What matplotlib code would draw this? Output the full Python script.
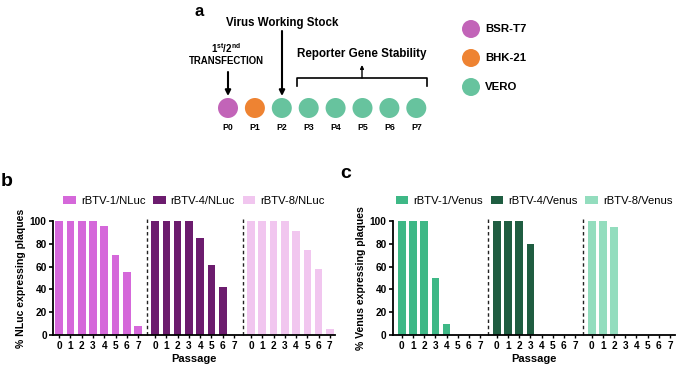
import numpy as np
import matplotlib.pyplot as plt
from matplotlib.patches import Circle

plt.rcParams["font.family"] = ["Liberation Sans", "DejaVu Sans"]
plt.rcParams["mathtext.fontset"] = "custom"
plt.rcParams["mathtext.rm"] = "Liberation Sans:bold"
plt.rcParams["mathtext.bf"] = "Liberation Sans:bold"

# ---- panel a: passage scheme ----
passage_labels = ["P0", "P1", "P2", "P3", "P4", "P5", "P6", "P7"]
passage_cells = ["BSR-T7", "BHK-21", "VERO", "VERO", "VERO", "VERO", "VERO", "VERO"]
cell_lines = ["BSR-T7", "BHK-21", "VERO"]
cell_colors = ["#C264B8", "#EE8332", "#67C39E"]

# ---- panels b / c: reporter stability ----
passages = [0, 1, 2, 3, 4, 5, 6, 7]
nluc_names = ["rBTV-1/NLuc", "rBTV-4/NLuc", "rBTV-8/NLuc"]
nluc_values = [
    [100, 100, 100, 100, 96, 70, 55, 8],
    [100, 100, 100, 100, 85, 61, 42, 0],
    [100, 100, 100, 100, 91, 75, 58, 5],
]
nluc_colors = ["#D568DA", "#6C1C6E", "#F1C6EF"]

venus_names = ["rBTV-1/Venus", "rBTV-4/Venus", "rBTV-8/Venus"]
venus_values = [
    [100, 100, 100, 50, 10, 0, 0, 0],
    [100, 100, 100, 80, 0, 0, 0, 0],
    [100, 100, 95, 0, 0, 0, 0, 0],
]
venus_colors = ["#3EB886", "#1F5D41", "#93DDBE"]

W, H = 680, 370
fig = plt.figure(figsize=(W / 100, H / 100), dpi=100)

# overlay in pixel coordinates for the scheme
ax_a = fig.add_axes([0, 0, 1, 1])
ax_a.set_xlim(0, W)
ax_a.set_ylim(H, 0)
ax_a.axis("off")

col_of = dict(zip(cell_lines, cell_colors))
x0, dx, yc, r = 228, 26.9, 108, 10
for i, (lab, cell) in enumerate(zip(passage_labels, passage_cells)):
    cx = x0 + i * dx
    ax_a.add_patch(Circle((cx, yc), r, color=col_of[cell], lw=0))
    ax_a.text(cx, yc + 19, lab, ha="center", va="center", fontsize=6.3, fontweight="bold")

# legend of cell lines
for j, (name, c) in enumerate(zip(cell_lines, cell_colors)):
    y = 29 + j * 29
    ax_a.add_patch(Circle((471, y), 9, color=c, lw=0))
    ax_a.text(485, y, name, ha="left", va="center", fontsize=8.2, fontweight="bold")

ax_a.text(199, 11, "a", ha="center", va="center", fontsize=12, fontweight="bold")
ax_a.text(226, 48, r"1$^{\mathbf{st}}$/2$^{\mathbf{nd}}$", ha="center", va="center",
          fontsize=7, fontweight="bold")
ax_a.text(226, 61, "TRANSFECTION", ha="center", va="center", fontsize=6.9, fontweight="bold")
ax_a.text(282, 23, "Virus Working Stock", ha="center", va="center", fontsize=8.3, fontweight="bold")
ax_a.text(362, 54, "Reporter Gene Stability", ha="center", va="center", fontsize=8.4, fontweight="bold")

arrow = dict(arrowstyle="-|>", lw=1.5, color="black", mutation_scale=8, shrinkA=0, shrinkB=0)
ax_a.annotate("", xy=(228, 96), xytext=(228, 72), arrowprops=arrow)
ax_a.annotate("", xy=(282, 96), xytext=(282, 31), arrowprops=arrow)
ax_a.plot([297, 297, 427, 427], [86, 78, 78, 86], color="black", lw=1.2)
ax_a.annotate("", xy=(362, 65), xytext=(362, 78),
              arrowprops=dict(arrowstyle="-|>", lw=1.0, color="black", mutation_scale=5,
                              shrinkA=0, shrinkB=0))

GROUP_STEP = 8.5


def bar_panel(left_px, names, values, colors, ylabel, xleft, letter, letter_xy):
    ax = fig.add_axes([left_px / W, 35 / H, 282 / W, 114 / H])
    ticks, ticklabels = [], []
    for g, (name, vals, c) in enumerate(zip(names, values, colors)):
        xs = g * GROUP_STEP + np.array(passages)
        ax.bar(xs, vals, width=0.68, color=c, label=name)
        ticks += list(xs)
        ticklabels += [str(p) for p in passages]
    for g in (1, 2):
        xm = g * GROUP_STEP - (GROUP_STEP - 7) / 2
        ax.vlines(xm, 0, 103, colors="#222222", linestyles=(0, (2.5, 2)), lw=1.0, clip_on=False)
    ax.set_xlim(xleft, 2 * GROUP_STEP + 7.45)
    ax.set_ylim(0, 100)
    ax.set_yticks([0, 20, 40, 60, 80, 100])
    ax.set_xticks(ticks)
    ax.set_xticklabels(ticklabels)
    for s in ("top", "right"):
        ax.spines[s].set_visible(False)
    for s in ("left", "bottom"):
        ax.spines[s].set_linewidth(1.3)
    ax.tick_params(axis="y", length=3, width=1.2, pad=1.5, labelsize=7.3)
    ax.tick_params(axis="x", length=2.5, width=1.0, pad=2, labelsize=7.3)
    for t in ax.get_xticklabels() + ax.get_yticklabels():
        t.set_fontweight("bold")
    ax.set_ylabel(ylabel, fontsize=7.6, fontweight="bold", labelpad=3)
    ax.set_xlabel("Passage", fontsize=8, fontweight="bold", labelpad=2)
    ax.legend(loc="lower center", bbox_to_anchor=(0.5, 1.08), ncol=3, frameon=False,
              fontsize=8.1, handlelength=1.1, handleheight=0.7, handletextpad=0.45,
              columnspacing=0.7, borderpad=0)
    ax_a.text(letter_xy[0], letter_xy[1], letter, ha="center", va="center",
              fontsize=14, fontweight="bold")
    return ax


bar_panel(53, nluc_names, nluc_values, nluc_colors, "% NLuc expressing plaques", -0.55, "b", (7, 181))
bar_panel(393, venus_names, venus_values, venus_colors, "% Venus expressing plaques", -0.8, "c", (346, 174))

fig.savefig("out.png", dpi=100)
